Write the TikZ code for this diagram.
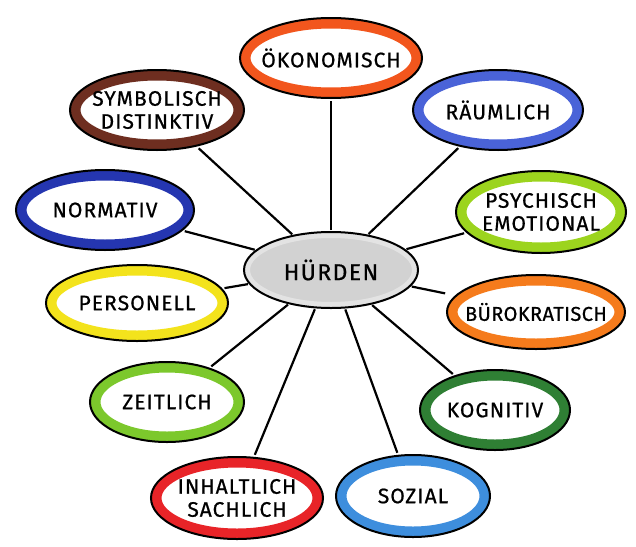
\documentclass[tikz,border=0pt]{standalone}
\usepackage{fontspec}
\setmainfont{Fira Sans}
\usetikzlibrary{shapes.geometric,backgrounds}
\definecolor{cOeko}{HTML}{F2561D}
\definecolor{cRaum}{HTML}{4A63D8}
\definecolor{cPsy}{HTML}{9CD41E}
\definecolor{cBuero}{HTML}{F57B1C}
\definecolor{cKog}{HTML}{2F7F34}
\definecolor{cSoz}{HTML}{3E8EDD}
\definecolor{cInh}{HTML}{E82428}
\definecolor{cZeit}{HTML}{7CC82C}
\definecolor{cPers}{HTML}{F3E31C}
\definecolor{cNorm}{HTML}{2536B0}
\definecolor{cSym}{HTML}{6E2E20}
\tikzset{
  bubble/.style={ellipse, inner sep=0pt,
    font=\fontsize{21}{23}\selectfont\addfontfeatures{LetterSpace=5,FakeBold=0.7}, align=center, text=black},
  tight/.style={font=\fontsize{20}{23}\selectfont\addfontfeatures{LetterSpace=2,FakeBold=0.7}},
  outline/.style={draw=black, line width=2pt},
  band/.style={draw=#1, line width=10pt},
  spoke/.style={draw=black, line width=2.2pt, shorten <=2pt, shorten >=3pt},
}
\begin{document}
\begin{tikzpicture}[x=1pt,y=1pt]
\useasboundingbox (0,0) rectangle (636,-546);

% hub
\node[ellipse, fill=gray!35, draw=gray!22, line width=6pt, minimum width=168pt, minimum height=70pt,
  font=\fontsize{23}{25}\selectfont\addfontfeatures{LetterSpace=6,FakeBold=0.7}] (hub) at (331,-270) {HÜRDEN};
\draw[outline] (hub.center) ellipse [x radius=87pt, y radius=38pt];

% outer bubbles
\node[bubble, minimum width=182pt, minimum height=80pt] (oeko) at (331,-58) {ÖKONOMISCH};
\node[bubble, minimum width=170pt, minimum height=80pt] (raum) at (498,-110) {RÄUMLICH};
\node[bubble, minimum width=170pt, minimum height=82pt] (psy) at (541,-212) {PSYCHISCH\\EMOTIONAL};
\node[bubble, tight, minimum width=178pt, minimum height=74pt] (buero) at (536,-312) {BÜROKRATISCH};
\node[bubble, minimum width=150pt, minimum height=80pt] (kog) at (495,-410) {KOGNITIV};
\node[bubble, minimum width=154pt, minimum height=82pt] (soz) at (413,-496) {SOZIAL};
\node[bubble, minimum width=172pt, minimum height=82pt] (inh) at (237,-498) {INHALTLICH\\SACHLICH};
\node[bubble, minimum width=154pt, minimum height=80pt] (zeit) at (167,-402) {ZEITLICH};
\node[bubble, minimum width=182pt, minimum height=76pt] (pers) at (137,-303) {PERSONELL};
\node[bubble, minimum width=178pt, minimum height=80pt] (norm) at (105,-210) {NORMATIV};
\node[bubble, minimum width=174pt, minimum height=80pt] (sym) at (157,-110) {SYMBOLISCH\\DISTINKTIV};

% coloured bands and black outlines behind the texts
\begin{pgfonlayer}{background}
\fill[white] (0,0) rectangle (636,-546);
\foreach \n/\c/\rx/\ry in {oeko/cOeko/91/40, raum/cRaum/85/40, psy/cPsy/85/41, buero/cBuero/89/37,
  kog/cKog/75/40, soz/cSoz/77/41, inh/cInh/86/41, zeit/cZeit/77/40, pers/cPers/91/38,
  norm/cNorm/89/40, sym/cSym/87/40}{
  \draw[band=\c] (\n.center) ellipse [x radius=\rx pt - 5.5pt, y radius=\ry pt - 5.5pt];
  \draw[outline] (\n.center) ellipse [x radius=\rx pt, y radius=\ry pt];
}
\end{pgfonlayer}

% spokes
\foreach \n in {oeko, raum, psy, buero, kog, soz, inh, zeit, pers, norm, sym}{
  \draw[spoke] (hub) -- (\n);
}
\end{tikzpicture}
\end{document}
